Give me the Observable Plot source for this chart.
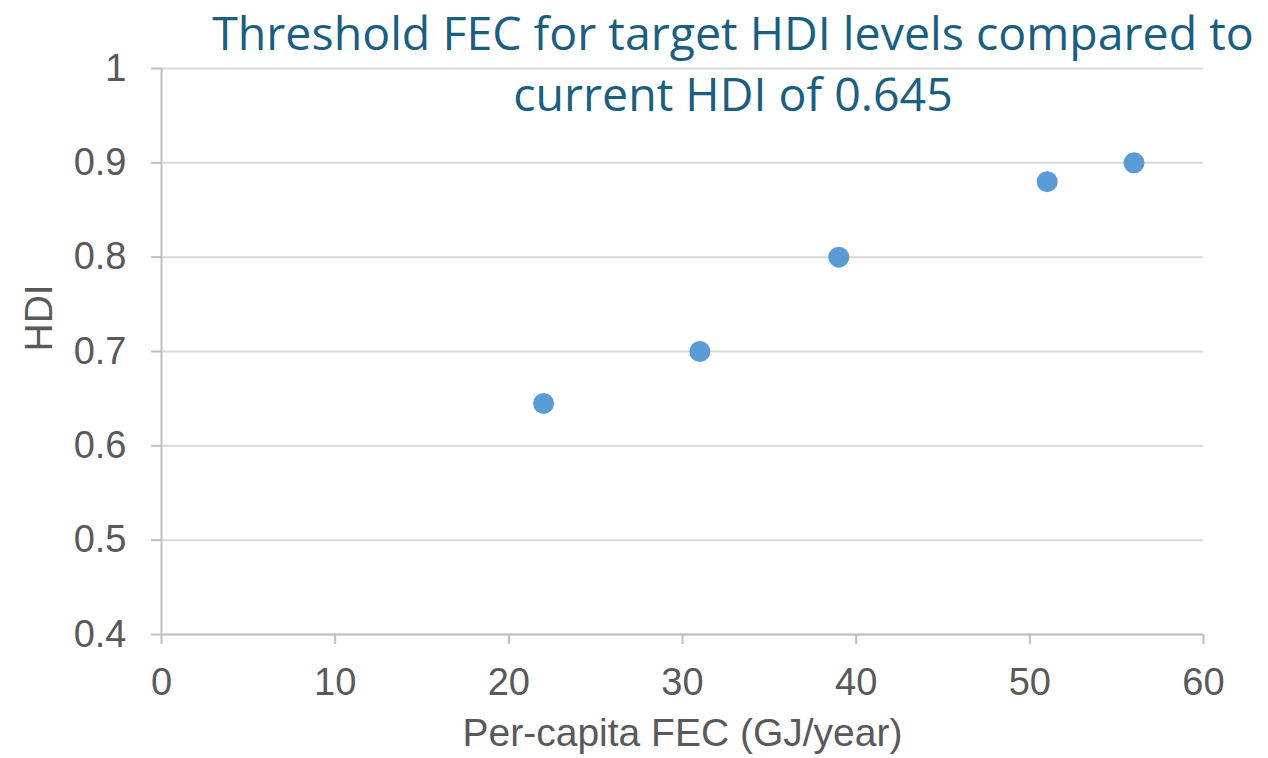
<!DOCTYPE html>
<html>
<head>
<meta charset="utf-8">
<script src="https://cdn.jsdelivr.net/npm/d3@7"></script>
<script src="https://cdn.jsdelivr.net/npm/@observablehq/plot@0.6"></script>
<style>
  html, body { margin: 0; padding: 0; background: #fff; }
  #wrap { position: relative; width: 1268px; height: 758px; overflow: hidden; }
  .title {
    position: absolute; left: 133px; width: 1200px; white-space: nowrap;
    text-align: center; font-family: "Open Sans", sans-serif; font-size: 46.5px;
    line-height: 46.5px; color: #1a5e80; z-index: 2;
  }
  #t1 { top: 9px; }
  #t2 { top: 70px; }
  #chart { position: absolute; left: 0; top: 0; }
</style>
</head>
<body>
<div id="wrap">
  <div id="chart"></div>
  <div class="title" id="t1">Threshold FEC for target HDI levels compared to</div>
  <div class="title" id="t2">current HDI of 0.645</div>
</div>
<script>
const fec = [22, 31, 39, 51, 56];
const hdi = [0.645, 0.70, 0.80, 0.88, 0.90];
const xTicks = [0, 10, 20, 30, 40, 50, 60];
const yTicks = [0.4, 0.5, 0.6, 0.7, 0.8, 0.9, 1];
const xLabel = "Per-capita FEC (GJ/year)";
const yLabel = "HDI";

const data = fec.map((x, i) => ({x, y: hdi[i]}));
const font = "Liberation Sans, Arial, sans-serif";

const chart = Plot.plot({
  width: 1268,
  height: 758,
  marginLeft: 161,
  marginRight: 65,
  marginTop: 68,
  marginBottom: 124,
  style: { fontFamily: font, fontSize: "38px", color: "#595959", background: "white" },
  x: { domain: [0, 60], ticks: xTicks, label: null },
  y: { domain: [0.4, 1], ticks: yTicks, label: null },
  marks: [
    Plot.gridY(yTicks, { stroke: "#d9d9d9", strokeOpacity: 1, strokeWidth: 2 }),
    Plot.ruleX([0], { stroke: "#bfbfbf", strokeWidth: 2 }),
    Plot.ruleY([0.4], { stroke: "#bfbfbf", strokeWidth: 2 }),
    Plot.axisY(yTicks, { tickSize: 10, tickPadding: 25, stroke: "#bfbfbf", strokeWidth: 2, fill: "#595959", fontSize: 38, tickFormat: d => String(d), label: null }),
    Plot.axisX(xTicks, { tickSize: 10, tickPadding: 24, stroke: "#bfbfbf", strokeWidth: 2, fill: "#595959", fontSize: 38, tickFormat: d => String(d), label: null }),
    Plot.text([xLabel], { frameAnchor: "bottom", dy: 111, fill: "#595959", fontSize: 39, text: d => d }),
    Plot.text([yLabel], { frameAnchor: "left", dx: -122, rotate: -90, fill: "#595959", fontSize: 39, text: d => d }),
    Plot.dot(data, { x: "x", y: "y", r: 10.5, fill: "#5b9bd5", stroke: "none" })
  ]
});
document.getElementById("chart").appendChild(chart);
</script>
</body>
</html>
